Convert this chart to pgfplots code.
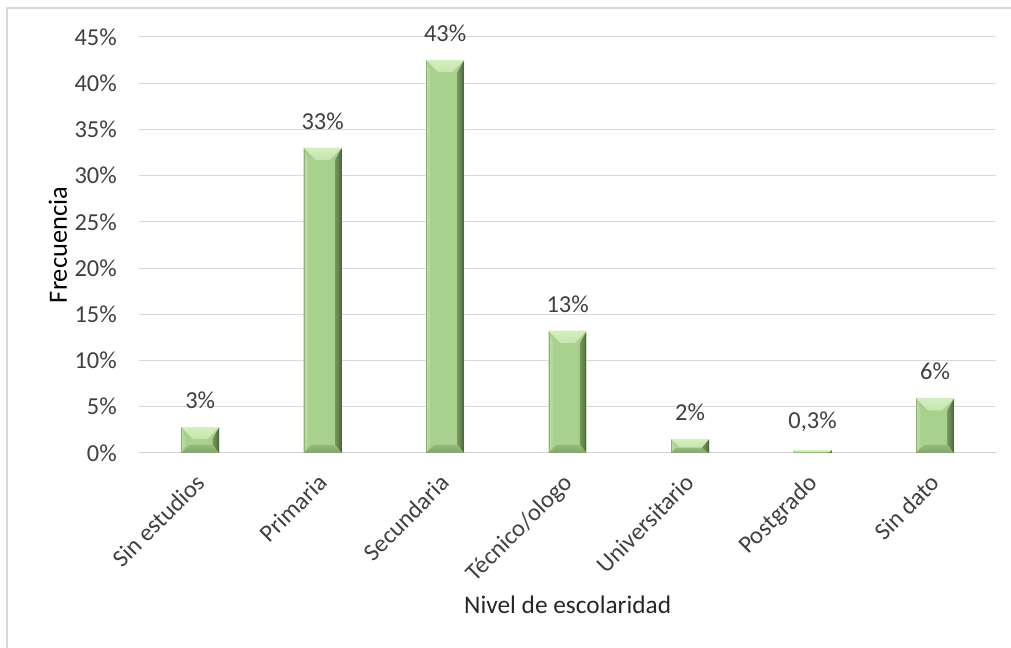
\documentclass[border=0pt]{standalone}
\usepackage{pgfplots}
\usepackage{pgfplotstable}
\pgfplotsset{compat=1.18}
\usepackage{fontspec}
\setmainfont{Carlito}

\definecolor{gridgray}{HTML}{D9D9D9}
\definecolor{axisgray}{HTML}{D0D0D0}
\definecolor{txt}{HTML}{404040}
\definecolor{face}{HTML}{A9D18E}
\definecolor{topbevA}{HTML}{DCF3CA}
\definecolor{topbevB}{HTML}{BEE0A4}
\definecolor{leftbev}{HTML}{B8DA9E}
\definecolor{leftedge}{HTML}{90B277}
\definecolor{botbevA}{HTML}{9EC283}
\definecolor{botbevB}{HTML}{7A9A62}
\definecolor{rightbevA}{HTML}{88AD6C}
\definecolor{rightbevB}{HTML}{2C3C23}

\pgfdeclareverticalshading{topfacet}{100bp}{color(0bp)=(topbevB); color(100bp)=(topbevA)}
\pgfdeclareverticalshading{botfacet}{100bp}{color(0bp)=(botbevB); color(100bp)=(botbevA)}
\pgfdeclarehorizontalshading{rightfacet}{100bp}{color(0bp)=(rightbevA); color(50bp)=(rightbevA!60!rightbevB); color(100bp)=(rightbevB)}

\pgfplotstableread{
x  y     lab
0  2.8   3\%
1  33.0  33\%
2  42.5  43\%
3  13.2  13\%
4  1.5   2\%
5  0.3   0,3\%
6  5.9   6\%
}\escolaridad

% bevel facets of a bar, drawn downward from the bar top; \by is the bar value
\pgfdeclareplotmark{bevelbar}{%
  \pgfmathsetmacro\bh{\by*312/45}%
  \pgfmathsetmacro\bt{min(9,0.6*\bh)}%
  \pgfmathsetmacro\bb{min(6,0.35*\bh)}%
  \def\bw{14.25}\def\sl{3}\def\sr{5}%
  \begin{pgfscope}
  \pgfpathrectanglecorners{\pgfpoint{-\bw pt}{-\bh pt}}{\pgfpoint{\bw pt}{0pt}}%
  \pgfusepath{clip}%
  % left facet
  \pgfsetfillcolor{leftbev}%
  \pgfpathmoveto{\pgfpoint{-\bw pt}{0pt}}%
  \pgfpathlineto{\pgfpoint{-\bw pt}{-\bh pt}}%
  \pgfpathlineto{\pgfpoint{-\bw pt+\sl pt}{-\bh pt+\bb pt}}%
  \pgfpathlineto{\pgfpoint{-\bw pt+\sl pt}{-\bt pt}}%
  \pgfpathclose\pgfusepath{fill}%
  \pgfsetfillcolor{leftedge}%
  \pgfpathrectanglecorners{\pgfpoint{-\bw pt}{-\bh pt}}{\pgfpoint{-\bw pt+0.8pt}{0pt}}%
  \pgfusepath{fill}%
  % bottom facet
  \pgfpathmoveto{\pgfpoint{-\bw pt}{-\bh pt}}%
  \pgfpathlineto{\pgfpoint{\bw pt}{-\bh pt}}%
  \pgfpathlineto{\pgfpoint{\bw pt-\bb pt}{-\bh pt+\bb pt}}%
  \pgfpathlineto{\pgfpoint{-\bw pt+\bb pt}{-\bh pt+\bb pt}}%
  \pgfpathclose
  \pgfshadepath{botfacet}{0}\pgfusepath{}%
  % right facet
  \pgfpathmoveto{\pgfpoint{\bw pt}{0pt}}%
  \pgfpathlineto{\pgfpoint{\bw pt}{-\bh pt}}%
  \pgfpathlineto{\pgfpoint{\bw pt-\sr pt}{-\bh pt+\bb pt}}%
  \pgfpathlineto{\pgfpoint{\bw pt-\sr pt}{-\bt pt}}%
  \pgfpathclose
  \pgfshadepath{rightfacet}{0}\pgfusepath{}%
  % top facet
  \pgfpathmoveto{\pgfpoint{-\bw pt}{0pt}}%
  \pgfpathlineto{\pgfpoint{\bw pt}{0pt}}%
  \pgfpathlineto{\pgfpoint{\bw pt-\bt pt}{-\bt pt}}%
  \pgfpathlineto{\pgfpoint{-\bw pt+\bt pt}{-\bt pt}}%
  \pgfpathclose
  \pgfshadepath{topfacet}{0}\pgfusepath{}%
  \end{pgfscope}
}

\begin{document}
\begin{tikzpicture}
\useasboundingbox (-104.25pt,-146.25pt) rectangle (654pt,339.75pt);
% chart frame (left and top edges)
\draw[gridgray, line width=1.5pt] (-99pt,-146.25pt) -- (-99pt,333.75pt) -- (654pt,333.75pt);
\begin{axis}[
  at={(0,0)}, anchor=south west,
  scale only axis,
  width=643pt, height=312pt,
  xmin=-0.5, xmax=6.5,
  ymin=0, ymax=45,
  xtick={0,...,6},
  xticklabels={Sin estudios, Primaria, Secundaria, Técnico/ologo, Universitario, Postgrado, Sin dato},
  ytick={0,5,...,45},
  yticklabels={0\%,5\%,10\%,15\%,20\%,25\%,30\%,35\%,40\%,45\%},
  major tick length=0pt,
  tick align=inside,
  axis line style={draw=none},
  axis x line*=bottom,
  axis y line*=left,
  ymajorgrids,
  grid style={gridgray, line width=0.75pt},
  font=\fontsize{18.3}{21}\selectfont,
  tick label style={txt, inner sep=0pt},
  yticklabel style={xshift=-16.5pt, anchor=east},
  xticklabel style={xshift=-4.5pt, yshift=-14.5pt, rotate=45, anchor=north east},
  ylabel={Frecuencia},
  xlabel={Nivel de escolaridad},
  every axis y label/.style={at={(axis description cs:-0.0945,0.5)}, rotate=90, anchor=center, black, font=\fontsize{19.8}{22}\selectfont},
  every axis x label/.style={at={(axis description cs:0.5,-0.365)}, anchor=center, black!85, font=\fontsize{19}{22}\selectfont},
  clip=false,
]
% x axis line
\draw[axisgray, line width=0.75pt] (axis cs:-0.5,0) -- (axis cs:6.5,0);
\addplot[ybar, bar width=28.5pt, fill=face, draw=none,
  nodes near coords,
  point meta=explicit symbolic,
  every node near coord/.append style={txt, anchor=south, inner sep=0pt, yshift=13.5pt}]
  table[x=x, y=y, meta=lab] {\escolaridad};
\addplot[only marks, mark=bevelbar,
  visualization depends on={\thisrow{y} \as \by}]
  table[x=x, y=y] {\escolaridad};
\end{axis}
\end{tikzpicture}
\end{document}
